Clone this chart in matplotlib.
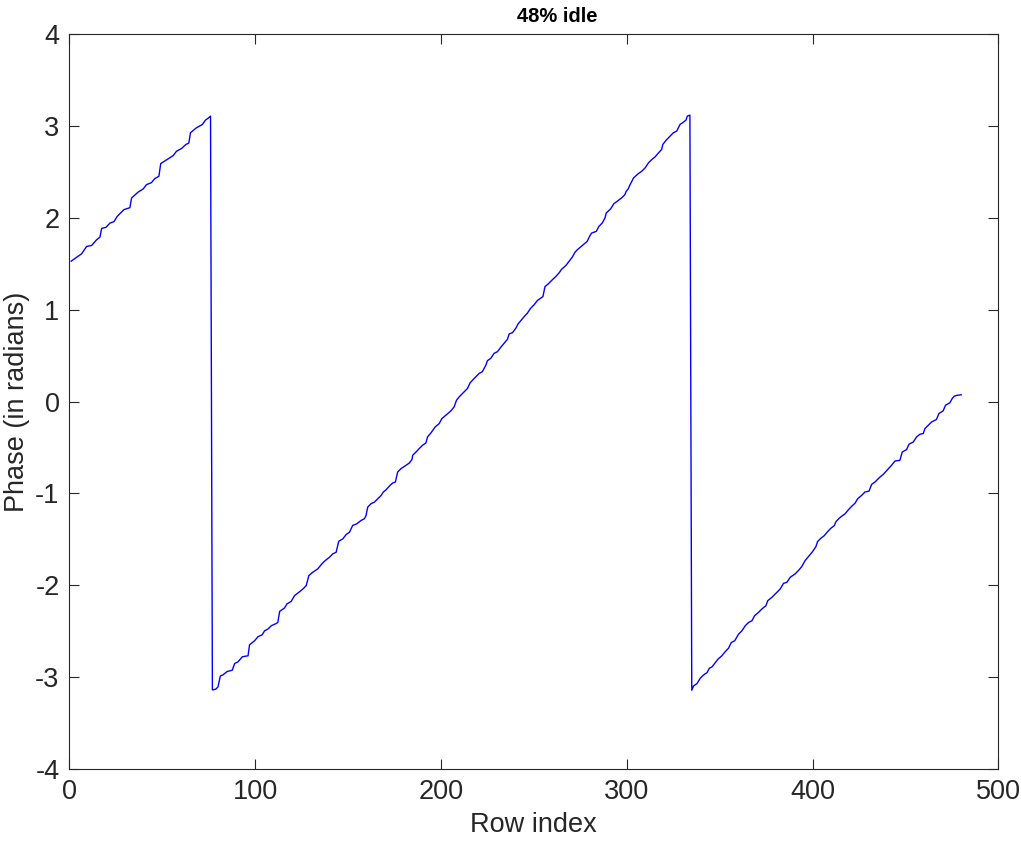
import matplotlib
matplotlib.use("Agg")
import matplotlib.pyplot as plt
import numpy as np

plt.rcParams['font.family'] = ['Liberation Sans', 'DejaVu Sans']
plt.rcParams['axes.unicode_minus'] = False

# fase por fila (vertices de la curva)
fila_1 = [1.0, 6.6, 9.3, 12.0, 14.7, 16.5, 17.4, 19.7, 21.9, 24.0, 25.8, 29.4,
          32.6, 33.5, 37.1, 39.8, 41.5, 44.2, 46.0, 48.2, 49.2, 53.2, 55.9,
          57.7, 60.4, 62.7, 64.3, 65.2, 68.4, 71.6, 73.3, 75.0, 76.0]
fase_1 = [1.53, 1.61, 1.69, 1.701, 1.763, 1.792, 1.887, 1.898, 1.945, 1.96,
          2.018, 2.091, 2.112, 2.218, 2.283, 2.317, 2.363, 2.385, 2.429, 2.454,
          2.593, 2.644, 2.68, 2.727, 2.757, 2.8, 2.815, 2.928, 2.982, 3.018,
          3.066, 3.091, 3.109]

fila_2 = [77.0, 78.8, 80.0, 81.3, 82.7, 84.9, 87.7, 89.0, 90.8, 93.1, 96.2,
          97.0, 99.7, 101.5, 103.8, 105.1, 106.9, 108.7, 111.4, 112.2, 113.2,
          115.8, 117.1, 119.4, 121.2, 123.9, 125.7, 127.5, 128.9, 131.0, 133.7,
          135.6, 137.3, 140.0, 141.8, 143.6, 145.0, 147.2, 149.0, 150.8, 152.5,
          154.7, 157.0, 158.8, 159.7, 160.6, 162.4, 164.2, 166.0, 167.8, 169.0,
          170.5, 172.6, 174.0, 175.5, 176.7, 178.5, 181.2, 183.0, 184.4, 184.8,
          186.6, 188.3, 190.1, 191.9, 192.8, 194.6, 196.9, 199.1, 200.5, 202.7,
          205.4, 207.1, 208.4, 209.8, 212.5, 214.3, 215.7, 217.9, 220.6, 222.3,
          224.2, 225.0, 226.8, 228.6, 230.4, 232.2, 234.0, 235.8, 236.7, 238.5,
          240.3, 241.5, 243.3, 245.1, 246.5, 248.3, 250.1, 251.9, 253.7, 254.9,
          256.0, 257.8, 259.9, 261.8, 263.5, 265.0, 267.1, 268.9, 270.7, 272.1,
          273.4, 276.0, 278.7, 280.0, 281.1, 283.6, 285.0, 286.8, 288.3, 289.0,
          291.3, 293.1, 294.8, 297.2, 299.0, 299.7, 300.8, 301.8, 303.7, 306.3,
          308.1, 309.9, 311.7, 313.5, 315.3, 317.1, 318.8, 319.4, 321.2, 323.3,
          325.1, 326.9, 328.7, 330.1, 331.9, 332.6, 334.0]
fase_2 = [-3.139, -3.131, -3.106, -2.986, -2.975, -2.939, -2.924, -2.851,
          -2.833, -2.778, -2.767, -2.647, -2.604, -2.56, -2.538, -2.495, -2.476,
          -2.44, -2.415, -2.404, -2.284, -2.247, -2.203, -2.175, -2.112, -2.07,
          -2.04, -2.003, -1.894, -1.858, -1.821, -1.774, -1.738, -1.694, -1.657,
          -1.64, -1.52, -1.494, -1.447, -1.421, -1.348, -1.33, -1.294, -1.275,
          -1.239, -1.148, -1.111, -1.094, -1.057, -1.021, -0.984, -0.959,
          -0.912, -0.886, -0.875, -0.766, -0.73, -0.693, -0.668, -0.631, -0.584,
          -0.548, -0.511, -0.475, -0.45, -0.384, -0.341, -0.275, -0.238, -0.184,
          -0.147, -0.1, -0.057, 0.016, 0.052, 0.107, 0.144, 0.205, 0.253, 0.308,
          0.326, 0.398, 0.446, 0.471, 0.526, 0.544, 0.592, 0.635, 0.679, 0.737,
          0.751, 0.799, 0.846, 0.89, 0.933, 0.963, 1.017, 1.054, 1.101, 1.126,
          1.144, 1.253, 1.283, 1.326, 1.362, 1.4, 1.443, 1.479, 1.526, 1.574,
          1.625, 1.654, 1.698, 1.745, 1.8, 1.836, 1.854, 1.908, 1.945, 2.0,
          2.055, 2.098, 2.156, 2.181, 2.218, 2.254, 2.29, 2.317, 2.363, 2.437,
          2.484, 2.509, 2.546, 2.6, 2.637, 2.666, 2.709, 2.746, 2.8, 2.847,
          2.891, 2.928, 2.946, 3.019, 3.037, 3.066, 3.109, 3.12]

fila_3 = [335.0, 336.0, 337.8, 339.6, 341.4, 343.2, 344.5, 345.9, 347.7,
          349.1, 351.2, 353.1, 354.8, 356.3, 358.1, 360.2, 362.0, 363.8, 365.6,
          367.4, 368.8, 370.9, 372.7, 374.9, 375.9, 378.1, 380.8, 382.6, 384.4,
          386.2, 388.0, 390.6, 392.4, 394.2, 396.0, 398.2, 400.0, 401.8, 402.7,
          404.5, 406.3, 408.1, 409.9, 411.7, 412.6, 414.3, 416.1, 417.5, 419.3,
          421.0, 422.9, 424.3, 426.4, 428.2, 430.4, 431.8, 433.6, 436.3, 438.1,
          440.4, 442.5, 444.4, 447.0, 448.3, 450.6, 451.9, 454.2, 456.0, 457.8,
          459.6, 460.5, 462.3, 464.1, 466.7, 468.0, 470.3, 471.6, 473.9, 475.2,
          476.3, 477.5, 478.7, 480.0]
fase_3 = [-3.142, -3.095, -3.07, -3.011, -2.975, -2.95, -2.902, -2.888, -2.84,
          -2.804, -2.767, -2.72, -2.684, -2.622, -2.604, -2.531, -2.495, -2.44,
          -2.404, -2.385, -2.331, -2.295, -2.258, -2.222, -2.167, -2.131,
          -2.076, -2.04, -1.978, -1.967, -1.912, -1.876, -1.839, -1.796, -1.731,
          -1.677, -1.633, -1.579, -1.524, -1.487, -1.459, -1.416, -1.378, -1.35,
          -1.307, -1.27, -1.241, -1.221, -1.177, -1.141, -1.105, -1.057, -1.021,
          -0.984, -0.974, -0.901, -0.875, -0.821, -0.791, -0.74, -0.693, -0.646,
          -0.639, -0.548, -0.522, -0.464, -0.439, -0.384, -0.355, -0.347,
          -0.293, -0.257, -0.221, -0.194, -0.129, -0.1, -0.038, -0.013, 0.035,
          0.06, 0.068, 0.071, 0.075]

titulo = "48% idle"
xticks = [0, 100, 200, 300, 400, 500]
yticks = [-4, -3, -2, -1, 0, 1, 2, 3, 4]

filas = fila_1 + fila_2 + fila_3
fases = fase_1 + fase_2 + fase_3

gris = "#262626"
fig = plt.figure(figsize=(10.21, 8.41), dpi=100)
ax = fig.add_axes([0.0679, 0.0856, 0.9099, 0.8736])

ax.plot(filas, fases, color=(0, 0, 1), linewidth=1.0)

ax.set_xlim(0, 500)
ax.set_ylim(-4, 4)
ax.set_xticks(xticks)
ax.set_yticks(yticks)
ax.tick_params(direction="in", length=7, width=0.8, colors=gris,
               labelsize=19.5, top=True, right=True, pad=7)
for s in ax.spines.values():
    s.set_color(gris)
    s.set_linewidth(0.8)

ax.set_xlabel("Row index", fontsize=19.5, color=gris, labelpad=5)
ax.set_ylabel("Phase (in radians)", fontsize=19.5, color=gris, labelpad=4)
# el titulo del original queda un poco a la derecha del centro
ax.set_title(titulo, fontsize=14.5, fontweight="bold", color="black",
             x=0.525, pad=9)

fig.savefig("out.png", dpi=100)
